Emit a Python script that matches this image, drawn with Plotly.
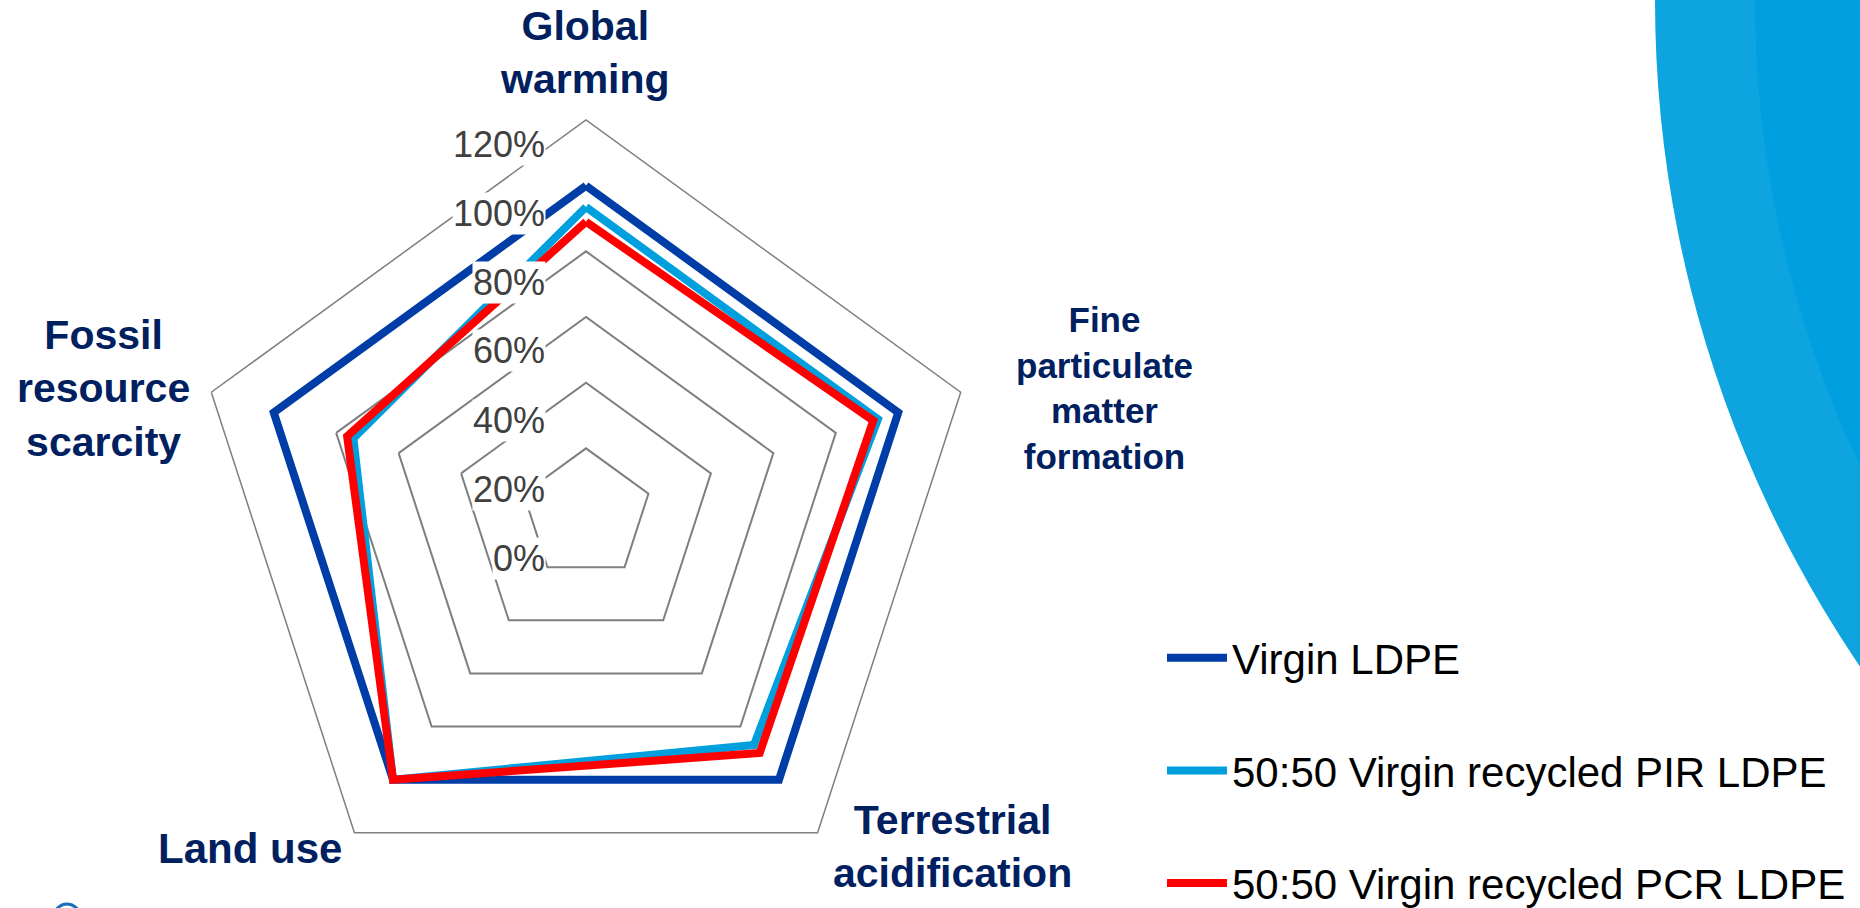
import plotly.graph_objects as go

# Impact categories (clockwise from the top) and their display labels
categories = ["Global warming", "Fine particulate matter formation",
              "Terrestrial acidification", "Land use", "Fossil resource scarcity"]
category_labels = ["Global<br>warming", "Fine<br>particulate<br>matter<br>formation",
                   "Terrestrial<br>acidification", "Land use", "Fossil<br>resource<br>scarcity"]

# Relative impact, normalised to virgin LDPE (1.0 = 100 %)
virgin_ldpe = [1.00, 1.00, 1.00, 1.00, 1.00]
pir_ldpe = [0.935, 0.935, 0.87, 1.00, 0.745]
pcr_ldpe = [0.89, 0.92, 0.90, 1.00, 0.765]

series_names = ["Virgin LDPE", "50:50 Virgin recycled PIR LDPE", "50:50 Virgin recycled PCR LDPE"]
series_values = [virgin_ldpe, pir_ldpe, pcr_ldpe]
series_colors = ["#003DA6", "#00A0DE", "#FF0000"]

# Radial scale
radial_ticks = [0.0, 0.2, 0.4, 0.6, 0.8, 1.0, 1.2]
radial_tick_text = ["0%", "20%", "40%", "60%", "80%", "100%", "120%"]

W, H = 1860, 908


def px(x):
    return x / W


def py(y):
    return 1 - y / H


fig = go.Figure()
for name, vals, col in zip(series_names, series_values, series_colors):
    fig.add_trace(go.Scatterpolar(
        r=vals + vals[:1],
        theta=categories + categories[:1],
        mode="lines",
        name=name,
        legendgroup=name,
        line=dict(color=col, width=8),
        hoverinfo="skip",
    ))

annotations = []
# Category labels around the pentagon
label_pos = [(585, 52), (1104, 388), (952, 846), (250, 848), (103, 388)]
label_sizes = [41, 35, 41, 42, 41]
for text, (x, y), size in zip(category_labels, label_pos, label_sizes):
    annotations.append(dict(
        x=px(x), y=py(y), xref="paper", yref="paper", text=text, showarrow=False,
        xanchor="center", yanchor="middle", align="center",
        font=dict(family="Liberation Sans, Arial, sans-serif", size=size,
                  color="#002060", weight="bold"),
    ))

# Radial percentage labels stacked up the vertical axis, on white boxes
for i, (v, t) in enumerate(zip(radial_ticks, radial_tick_text)):
    annotations.append(dict(
        x=px(546), y=py(558 - 69.0 * i), xref="paper", yref="paper", text=t,
        showarrow=False, xanchor="right", yanchor="middle", bgcolor="white",
        borderpad=0,
        font=dict(family="Liberation Sans, Arial, sans-serif", size=36, color="#404040"),
    ))

shapes = [
    # large decorative disc on the right edge
    dict(type="circle", xref="paper", yref="paper", layer="below",
         x0=px(1655), x1=px(2841 + 1186), y0=py(1186), y1=py(-1186),
         fillcolor="#0DA4E0", line=dict(width=0)),
    dict(type="circle", xref="paper", yref="paper", layer="below",
         x0=px(1755), x1=px(2841 + 1086), y0=py(1086), y1=py(-1086),
         fillcolor="#009FE0", line=dict(width=0)),
    # small ring peeking in at the bottom-left corner
    dict(type="circle", xref="paper", yref="paper", layer="below",
         x0=px(54), x1=px(80), y0=py(930), y1=py(904),
         fillcolor="rgba(0,0,0,0)", line=dict(color="#1A6FB8", width=3)),
]

fig.update_layout(
    width=W, height=H,
    margin=dict(l=0, r=0, t=0, b=0, autoexpand=False),
    paper_bgcolor="white",
    plot_bgcolor="white",
    showlegend=True,
    polar=dict(
        domain=dict(x=[px(192), px(980)], y=[py(908), py(120)]),
        bgcolor="rgba(0,0,0,0)",
        gridshape="linear",
        angularaxis=dict(
            rotation=90, direction="clockwise",
            categoryorder="array", categoryarray=categories,
            showgrid=False, showticklabels=False, ticks="",
            showline=True, linecolor="#7F7F7F", linewidth=1.5,
        ),
        radialaxis=dict(
            range=[0, 1.2], tickvals=radial_ticks[1:-1], angle=90,
            showticklabels=False, ticks="", showline=False,
            gridcolor="#7F7F7F", gridwidth=1.5,
        ),
    ),
    legend=dict(
        x=px(1162), y=py(624), xanchor="left", yanchor="top",
        traceorder="grouped", tracegroupgap=55,
        bgcolor="rgba(0,0,0,0)", itemwidth=60,
        font=dict(family="Liberation Sans, Arial, sans-serif",
                  size=42, color="black"),
    ),
    annotations=annotations,
    shapes=shapes,
)

fig.write_html("out.html")
